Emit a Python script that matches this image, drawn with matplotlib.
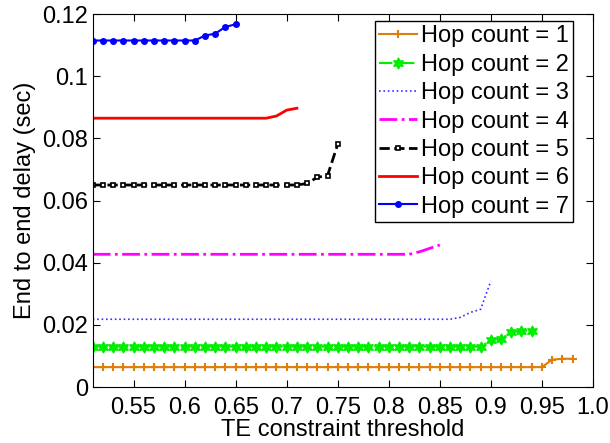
import matplotlib
matplotlib.use('Agg')
import matplotlib.pyplot as plt

# TE constraint threshold (x axis), 0.51 .. 0.98
threshold = [0.51, 0.52, 0.53, 0.54, 0.55, 0.56, 0.57, 0.58, 0.59, 0.60,
             0.61, 0.62, 0.63, 0.64, 0.65, 0.66, 0.67, 0.68, 0.69, 0.70,
             0.71, 0.72, 0.73, 0.74, 0.75, 0.76, 0.77, 0.78, 0.79, 0.80,
             0.81, 0.82, 0.83, 0.84, 0.85, 0.86, 0.87, 0.88, 0.89, 0.90,
             0.91, 0.92, 0.93, 0.94, 0.95, 0.96, 0.97, 0.98]

# end to end delay (sec) for each hop count
hop1 = [0.0064, 0.0064, 0.0064, 0.0064, 0.0064, 0.0064, 0.0064, 0.0064, 0.0064, 0.0064,
        0.0064, 0.0064, 0.0064, 0.0064, 0.0064, 0.0064, 0.0064, 0.0064, 0.0064, 0.0064,
        0.0064, 0.0064, 0.0064, 0.0064, 0.0064, 0.0064, 0.0064, 0.0064, 0.0064, 0.0064,
        0.0064, 0.0064, 0.0064, 0.0064, 0.0064, 0.0064, 0.0064, 0.0064, 0.0064, 0.0064,
        0.0064, 0.0064, 0.0064, 0.0064, 0.0064, 0.0088, 0.0091, 0.0091]
hop2 = [0.0130, 0.0130, 0.0130, 0.0130, 0.0130, 0.0130, 0.0130, 0.0130, 0.0130, 0.0130,
        0.0130, 0.0130, 0.0130, 0.0130, 0.0130, 0.0130, 0.0130, 0.0130, 0.0130, 0.0130,
        0.0130, 0.0130, 0.0130, 0.0130, 0.0130, 0.0130, 0.0130, 0.0130, 0.0130, 0.0130,
        0.0130, 0.0130, 0.0130, 0.0130, 0.0130, 0.0130, 0.0130, 0.0130, 0.0130, 0.0151,
        0.0155, 0.0176, 0.0181, 0.0181]
hop3 = [0.0218, 0.0218, 0.0218, 0.0218, 0.0218, 0.0218, 0.0218, 0.0218, 0.0218, 0.0218,
        0.0218, 0.0218, 0.0218, 0.0218, 0.0218, 0.0218, 0.0218, 0.0218, 0.0218, 0.0218,
        0.0218, 0.0218, 0.0218, 0.0218, 0.0218, 0.0218, 0.0218, 0.0218, 0.0218, 0.0218,
        0.0218, 0.0218, 0.0218, 0.0218, 0.0218, 0.0218, 0.0224, 0.0240, 0.0250, 0.0341]
hop4 = [0.0427, 0.0427, 0.0427, 0.0427, 0.0427, 0.0427, 0.0427, 0.0427, 0.0427, 0.0427,
        0.0427, 0.0427, 0.0427, 0.0427, 0.0427, 0.0427, 0.0427, 0.0427, 0.0427, 0.0427,
        0.0427, 0.0427, 0.0427, 0.0427, 0.0427, 0.0427, 0.0427, 0.0427, 0.0427, 0.0427,
        0.0427, 0.0427, 0.0435, 0.0446, 0.0457]
hop5 = [0.0650, 0.0650, 0.0650, 0.0650, 0.0650, 0.0650, 0.0650, 0.0650, 0.0650, 0.0650,
        0.0650, 0.0650, 0.0650, 0.0650, 0.0650, 0.0650, 0.0650, 0.0650, 0.0650, 0.0650,
        0.0650, 0.0655, 0.0675, 0.0680, 0.0781]
hop6 = [0.0865, 0.0865, 0.0865, 0.0865, 0.0865, 0.0865, 0.0865, 0.0865, 0.0865, 0.0865,
        0.0865, 0.0865, 0.0865, 0.0865, 0.0865, 0.0865, 0.0865, 0.0865, 0.0872, 0.0891,
        0.0897]
hop7 = [0.1115, 0.1115, 0.1115, 0.1115, 0.1115, 0.1115, 0.1115, 0.1115, 0.1115, 0.1115,
        0.1115, 0.1131, 0.1137, 0.1159, 0.1167]

labels = ['Hop count = %d' % i for i in range(1, 8)]

xticks = [0.55, 0.6, 0.65, 0.7, 0.75, 0.8, 0.85, 0.9, 0.95, 1.0]
xtick_labels = ['0.55', '0.6', '0.65', '0.7', '0.75', '0.8', '0.85', '0.9', '0.95', '1.0']
yticks = [0, 0.02, 0.04, 0.06, 0.08, 0.1, 0.12]
ytick_labels = ['0', '0.02', '0.04', '0.06', '0.08', '0.1', '0.12']

plt.rcParams['font.family'] = ['Liberation Sans', 'DejaVu Sans']
fs = 17

fig = plt.figure(figsize=(6.1, 4.43), dpi=100)
ax = fig.add_axes([0.152, 0.1264, 0.820, 0.8418])

ax.plot(threshold[:len(hop1)], hop1, color='#DD7F0A', lw=1.5, marker='+', ms=6, mew=1.5, label=labels[0])
ax.plot(threshold[:len(hop2)], hop2, color='#00EE00', lw=1.5, ls='-.', marker=(6, 1, 0), ms=8, label=labels[1])
ax.plot(threshold[:len(hop3)], hop3, color='#3333FF', lw=1.2, ls=':', label=labels[2])
ax.plot(threshold[:len(hop4)], hop4, color='#FF00FF', lw=2, ls='-.', label=labels[3])
ax.plot(threshold[:len(hop5)], hop5, color='black', lw=2, ls='--', marker='s', ms=3.5,
        mfc='white', mew=1.2, label=labels[4])
ax.plot(threshold[:len(hop6)], hop6, color='#FF0000', lw=2, label=labels[5])
ax.plot(threshold[:len(hop7)], hop7, color='#0000FF', lw=1.5, marker='o', ms=4, label=labels[6])

ax.set_xlim(0.51, 1.0)
ax.set_ylim(0, 0.12)
ax.set_xticks(xticks)
ax.set_xticklabels(xtick_labels)
ax.set_yticks(yticks)
ax.set_yticklabels(ytick_labels)
ax.tick_params(direction='in', top=True, right=True, labelsize=fs, length=5)
ax.tick_params(axis='x', pad=7)
ax.set_xlabel('TE constraint threshold', fontsize=fs, labelpad=0)
ax.set_ylabel('End to end delay (sec)', fontsize=fs, labelpad=4)

leg = ax.legend(loc='upper right', bbox_to_anchor=(573.3 / 610, (443 - 20.7) / 443),
                bbox_transform=fig.transFigure, borderaxespad=0, fontsize=fs,
                fancybox=False, framealpha=1, edgecolor='black', handlelength=1.6,
                handletextpad=0.15, labelspacing=0.27, borderpad=0.2)
leg.get_frame().set_linewidth(1)

fig.savefig('out.png', dpi=100)
